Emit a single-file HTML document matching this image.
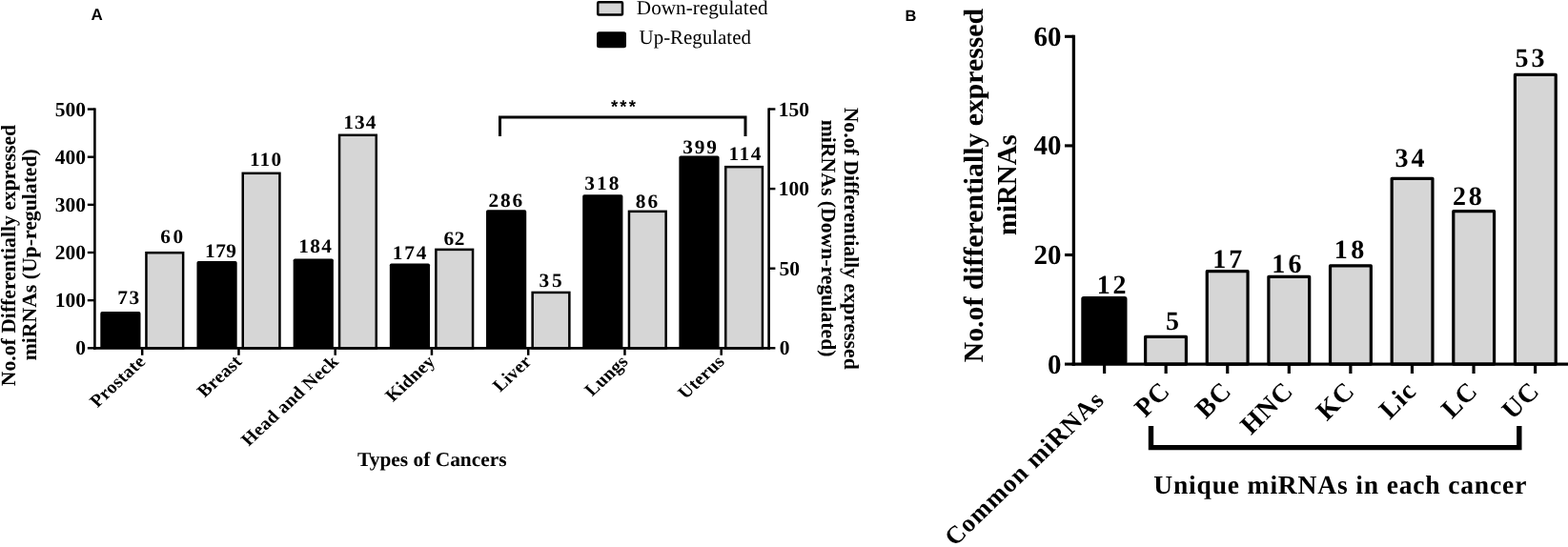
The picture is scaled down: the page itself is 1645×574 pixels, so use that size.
<!DOCTYPE html>
<html><head><meta charset="utf-8"><title>Figure</title>
<style>html,body{margin:0;padding:0;background:#fff}svg{display:block}</style></head>
<body><svg width="1645" height="574" viewBox="0 0 1645 574" text-rendering="geometricPrecision">
<rect width="1645" height="574" fill="#fff"/>
<rect x="105.30" y="327.09" width="42.20" height="38.21" fill="#000" rx="1.8"/>
<rect x="153.45" y="265.22" width="38.70" height="100.08" fill="#d6d6d6" stroke="#000" stroke-width="2.5"/>
<rect x="206.48" y="273.93" width="42.20" height="91.37" fill="#000" rx="1.8"/>
<rect x="254.75" y="181.82" width="38.70" height="183.48" fill="#d6d6d6" stroke="#000" stroke-width="2.5"/>
<rect x="307.66" y="271.42" width="42.20" height="93.88" fill="#000" rx="1.8"/>
<rect x="356.05" y="141.79" width="38.70" height="223.51" fill="#d6d6d6" stroke="#000" stroke-width="2.5"/>
<rect x="408.84" y="276.44" width="42.20" height="88.86" fill="#000" rx="1.8"/>
<rect x="457.35" y="261.88" width="38.70" height="103.42" fill="#d6d6d6" stroke="#000" stroke-width="2.5"/>
<rect x="510.02" y="220.27" width="42.20" height="145.03" fill="#000" rx="1.8"/>
<rect x="558.65" y="306.92" width="38.70" height="58.38" fill="#d6d6d6" stroke="#000" stroke-width="2.5"/>
<rect x="611.20" y="204.22" width="42.20" height="161.08" fill="#000" rx="1.8"/>
<rect x="659.95" y="221.85" width="38.70" height="143.45" fill="#d6d6d6" stroke="#000" stroke-width="2.5"/>
<rect x="712.38" y="163.60" width="42.20" height="201.70" fill="#000" rx="1.8"/>
<rect x="761.25" y="175.15" width="38.70" height="190.15" fill="#d6d6d6" stroke="#000" stroke-width="2.5"/>
<line x1="99.40" y1="113.40" x2="99.40" y2="366.70" stroke="#000" stroke-width="2.6" stroke-linecap="butt"/>
<line x1="806.60" y1="113.40" x2="806.60" y2="366.70" stroke="#000" stroke-width="2.6" stroke-linecap="butt"/>
<line x1="98.10" y1="365.40" x2="807.90" y2="365.40" stroke="#000" stroke-width="2.7" stroke-linecap="butt"/>
<line x1="91.80" y1="365.30" x2="99.40" y2="365.30" stroke="#000" stroke-width="2.4" stroke-linecap="butt"/>
<text transform="translate(79.30,372.40) scale(1.0000,1)" font-family='"Liberation Serif", serif' font-weight="bold" font-size="21.5" text-anchor="start" fill="#000">0</text>
<line x1="91.80" y1="315.15" x2="99.40" y2="315.15" stroke="#000" stroke-width="2.4" stroke-linecap="butt"/>
<text transform="translate(57.80,322.25) scale(1.0000,1)" font-family='"Liberation Serif", serif' font-weight="bold" font-size="21.5" text-anchor="start" fill="#000">100</text>
<line x1="91.80" y1="265.00" x2="99.40" y2="265.00" stroke="#000" stroke-width="2.4" stroke-linecap="butt"/>
<text transform="translate(57.80,272.10) scale(1.0000,1)" font-family='"Liberation Serif", serif' font-weight="bold" font-size="21.5" text-anchor="start" fill="#000">200</text>
<line x1="91.80" y1="214.85" x2="99.40" y2="214.85" stroke="#000" stroke-width="2.4" stroke-linecap="butt"/>
<text transform="translate(57.80,221.95)" font-family='"Liberation Serif", serif' font-weight="bold" font-size="21.5" text-anchor="start" fill="#000">300</text>
<line x1="91.80" y1="164.70" x2="99.40" y2="164.70" stroke="#000" stroke-width="2.4" stroke-linecap="butt"/>
<text transform="translate(57.80,171.80) scale(1.0000,1)" font-family='"Liberation Serif", serif' font-weight="bold" font-size="21.5" text-anchor="start" fill="#000">400</text>
<line x1="91.80" y1="114.55" x2="99.40" y2="114.55" stroke="#000" stroke-width="2.4" stroke-linecap="butt"/>
<text transform="translate(57.80,121.65) scale(1.0000,1)" font-family='"Liberation Serif", serif' font-weight="bold" font-size="21.5" text-anchor="start" fill="#000">500</text>
<line x1="806.60" y1="365.30" x2="813.40" y2="365.30" stroke="#000" stroke-width="2.4" stroke-linecap="butt"/>
<text transform="translate(817.65,372.40) scale(1.0000,1)" font-family='"Liberation Serif", serif' font-weight="bold" font-size="21.5" text-anchor="start" fill="#000">0</text>
<line x1="806.60" y1="281.70" x2="813.40" y2="281.70" stroke="#000" stroke-width="2.4" stroke-linecap="butt"/>
<text transform="translate(817.54,288.80) scale(1.0000,1)" font-family='"Liberation Serif", serif' font-weight="bold" font-size="21.5" text-anchor="start" fill="#000">50</text>
<line x1="806.60" y1="198.10" x2="813.40" y2="198.10" stroke="#000" stroke-width="2.4" stroke-linecap="butt"/>
<text transform="translate(816.68,205.20) scale(1.0000,1)" font-family='"Liberation Serif", serif' font-weight="bold" font-size="21.5" text-anchor="start" fill="#000">100</text>
<line x1="806.60" y1="114.50" x2="813.40" y2="114.50" stroke="#000" stroke-width="2.4" stroke-linecap="butt"/>
<text transform="translate(816.68,121.60) scale(1.0000,1)" font-family='"Liberation Serif", serif' font-weight="bold" font-size="21.5" text-anchor="start" fill="#000">150</text>
<line x1="149.20" y1="365.30" x2="149.20" y2="372.80" stroke="#000" stroke-width="2.5" stroke-linecap="butt"/>
<text transform="translate(153.70,380.60) scale(1.0800,1) rotate(-45)" font-family='"Liberation Serif", serif' font-weight="bold" font-size="18.6" text-anchor="end" letter-spacing="0.20" fill="#000">Prostate</text>
<line x1="250.45" y1="365.30" x2="250.45" y2="372.80" stroke="#000" stroke-width="2.5" stroke-linecap="butt"/>
<text transform="translate(254.95,380.60) scale(1.0800,1) rotate(-45)" font-family='"Liberation Serif", serif' font-weight="bold" font-size="18.6" text-anchor="end" letter-spacing="0.20" fill="#000">Breast</text>
<line x1="351.70" y1="365.30" x2="351.70" y2="372.80" stroke="#000" stroke-width="2.5" stroke-linecap="butt"/>
<text transform="translate(356.20,380.60) scale(1.0800,1) rotate(-45)" font-family='"Liberation Serif", serif' font-weight="bold" font-size="18.6" text-anchor="end" letter-spacing="0.20" fill="#000">Head and Neck</text>
<line x1="452.95" y1="365.30" x2="452.95" y2="372.80" stroke="#000" stroke-width="2.5" stroke-linecap="butt"/>
<text transform="translate(457.45,380.60) scale(1.0800,1) rotate(-45)" font-family='"Liberation Serif", serif' font-weight="bold" font-size="18.6" text-anchor="end" letter-spacing="0.20" fill="#000">Kidney</text>
<line x1="554.20" y1="365.30" x2="554.20" y2="372.80" stroke="#000" stroke-width="2.5" stroke-linecap="butt"/>
<text transform="translate(558.70,380.60) scale(1.0800,1) rotate(-45)" font-family='"Liberation Serif", serif' font-weight="bold" font-size="18.6" text-anchor="end" letter-spacing="0.20" fill="#000">Liver</text>
<line x1="655.45" y1="365.30" x2="655.45" y2="372.80" stroke="#000" stroke-width="2.5" stroke-linecap="butt"/>
<text transform="translate(659.95,380.60) scale(1.0800,1) rotate(-45)" font-family='"Liberation Serif", serif' font-weight="bold" font-size="18.6" text-anchor="end" letter-spacing="0.20" fill="#000">Lungs</text>
<line x1="756.70" y1="365.30" x2="756.70" y2="372.80" stroke="#000" stroke-width="2.5" stroke-linecap="butt"/>
<text transform="translate(761.20,380.60) scale(1.0800,1) rotate(-45)" font-family='"Liberation Serif", serif' font-weight="bold" font-size="18.6" text-anchor="end" letter-spacing="0.20" fill="#000">Uterus</text>
<text transform="translate(123.33,318.80) scale(1.0400,1)" font-family='"Liberation Serif", serif' font-weight="bold" font-size="20.5" text-anchor="start" letter-spacing="1.54" fill="#000">73</text>
<text transform="translate(168.25,254.50) scale(1.0400,1)" font-family='"Liberation Serif", serif' font-weight="bold" font-size="20.5" text-anchor="start" letter-spacing="2.57" fill="#000">60</text>
<text transform="translate(214.89,269.60) scale(1.0400,1)" font-family='"Liberation Serif", serif' font-weight="bold" font-size="20.5" text-anchor="start" letter-spacing="0.56" fill="#000">179</text>
<text transform="translate(261.89,174.00) scale(1.0400,1)" font-family='"Liberation Serif", serif' font-weight="bold" font-size="20.5" text-anchor="start" letter-spacing="1.18" fill="#000">110</text>
<text transform="translate(313.19,264.50) scale(1.0400,1)" font-family='"Liberation Serif", serif' font-weight="bold" font-size="20.5" text-anchor="start" letter-spacing="1.27" fill="#000">184</text>
<text transform="translate(360.29,135.00) scale(1.0400,1)" font-family='"Liberation Serif", serif' font-weight="bold" font-size="20.5" text-anchor="start" letter-spacing="1.08" fill="#000">134</text>
<text transform="translate(411.69,271.80) scale(1.0400,1)" font-family='"Liberation Serif", serif' font-weight="bold" font-size="20.5" text-anchor="start" letter-spacing="1.80" fill="#000">174</text>
<text transform="translate(465.45,256.80) scale(1.0400,1)" font-family='"Liberation Serif", serif' font-weight="bold" font-size="20.5" text-anchor="start" letter-spacing="0.65" fill="#000">62</text>
<text transform="translate(512.55,217.10) scale(1.0400,1)" font-family='"Liberation Serif", serif' font-weight="bold" font-size="20.5" text-anchor="start" letter-spacing="1.78" fill="#000">286</text>
<text transform="translate(565.55,301.20) scale(1.0400,1)" font-family='"Liberation Serif", serif' font-weight="bold" font-size="20.5" text-anchor="start" letter-spacing="2.76" fill="#000">35</text>
<text transform="translate(613.25,199.10) scale(1.0400,1)" font-family='"Liberation Serif", serif' font-weight="bold" font-size="20.5" text-anchor="start" letter-spacing="1.97" fill="#000">318</text>
<text transform="translate(666.66,218.20) scale(1.0400,1)" font-family='"Liberation Serif", serif' font-weight="bold" font-size="20.5" text-anchor="start" letter-spacing="2.08" fill="#000">86</text>
<text transform="translate(716.35,160.60) scale(1.0400,1)" font-family='"Liberation Serif", serif' font-weight="bold" font-size="20.5" text-anchor="start" letter-spacing="1.78" fill="#000">399</text>
<text transform="translate(764.39,167.90) scale(1.0400,1)" font-family='"Liberation Serif", serif' font-weight="bold" font-size="20.5" text-anchor="start" letter-spacing="1.60" fill="#000">114</text>
<polyline points="524.5,143 524.5,122.9 782,122.9 782,143" fill="none" stroke="#000" stroke-width="3"/>
<text transform="translate(640.95,117.90)" font-family='"Liberation Sans", sans-serif' font-weight="bold" font-size="18.5" text-anchor="start" letter-spacing="2.16" fill="#000">***</text>
<rect x="627.20" y="2.20" width="25.80" height="13.40" fill="#d6d6d6" stroke="#000" stroke-width="2.5" rx="1"/>
<rect x="626.00" y="33.20" width="31.00" height="17.00" fill="#000" rx="2.5"/>
<text transform="translate(667.86,14.60) scale(1.0099,1)" font-family='"Liberation Serif", serif' font-weight="normal" font-size="21" text-anchor="start" fill="#000">Down-regulated</text>
<text transform="translate(670.58,46.40) scale(0.9959,1)" font-family='"Liberation Serif", serif' font-weight="normal" font-size="21" text-anchor="start" fill="#000">Up-Regulated</text>
<text transform="translate(374.98,488.80) scale(1.0198,1)" font-family='"Liberation Serif", serif' font-weight="bold" font-size="21" text-anchor="start" fill="#000">Types of Cancers</text>
<text transform="translate(15.50,267.90) rotate(-90) scale(1.0033,1) translate(-136.78,0)" font-family='"Liberation Serif", serif' font-weight="bold" font-size="21.6">No.of Differentially expressed</text>
<text transform="translate(37.70,267.40) rotate(-90) scale(1.0056,1) translate(-110.32,0)" font-family='"Liberation Serif", serif' font-weight="bold" font-size="21.6">miRNAs (Up-regulated)</text>
<text transform="translate(886.00,250.35) rotate(90) scale(1.0066,1) translate(-136.78,0)" font-family='"Liberation Serif", serif' font-weight="bold" font-size="21.6">No.of Differentially expressed</text>
<text transform="translate(861.50,249.95) rotate(90) scale(1.0064,1) translate(-123.50,0)" font-family='"Liberation Serif", serif' font-weight="bold" font-size="21.6">miRNAs (Down-regulated)</text>
<text transform="translate(95.60,21.00)" font-family='"Liberation Sans", sans-serif' font-weight="bold" font-size="17" text-anchor="start" fill="#000">A</text>
<rect x="1134.30" y="311.04" width="48.20" height="71.06" fill="#000" rx="2.6"/>
<rect x="1201.63" y="353.45" width="42.80" height="28.65" fill="#d6d6d6" stroke="#000" stroke-width="3.2" stroke-linejoin="round"/>
<rect x="1266.26" y="284.69" width="42.80" height="97.41" fill="#d6d6d6" stroke="#000" stroke-width="3.2" stroke-linejoin="round"/>
<rect x="1330.89" y="290.42" width="42.80" height="91.68" fill="#d6d6d6" stroke="#000" stroke-width="3.2" stroke-linejoin="round"/>
<rect x="1395.52" y="278.96" width="42.80" height="103.14" fill="#d6d6d6" stroke="#000" stroke-width="3.2" stroke-linejoin="round"/>
<rect x="1460.15" y="187.28" width="42.80" height="194.82" fill="#d6d6d6" stroke="#000" stroke-width="3.2" stroke-linejoin="round"/>
<rect x="1524.78" y="221.66" width="42.80" height="160.44" fill="#d6d6d6" stroke="#000" stroke-width="3.2" stroke-linejoin="round"/>
<rect x="1589.41" y="78.41" width="42.80" height="303.69" fill="#d6d6d6" stroke="#000" stroke-width="3.2" stroke-linejoin="round"/>
<line x1="1126.40" y1="36.70" x2="1126.40" y2="383.80" stroke="#000" stroke-width="3.3" stroke-linecap="butt"/>
<line x1="1124.75" y1="382.10" x2="1645.00" y2="382.10" stroke="#000" stroke-width="3.4" stroke-linecap="butt"/>
<line x1="1117.00" y1="382.10" x2="1126.40" y2="382.10" stroke="#000" stroke-width="3.1" stroke-linecap="butt"/>
<text transform="translate(1099.01,391.50) scale(1.0000,1)" font-family='"Liberation Serif", serif' font-weight="bold" font-size="29" text-anchor="start" fill="#000">0</text>
<line x1="1117.00" y1="267.50" x2="1126.40" y2="267.50" stroke="#000" stroke-width="3.1" stroke-linecap="butt"/>
<text transform="translate(1084.51,276.90) scale(1.0000,1)" font-family='"Liberation Serif", serif' font-weight="bold" font-size="29" text-anchor="start" fill="#000">20</text>
<line x1="1117.00" y1="152.90" x2="1126.40" y2="152.90" stroke="#000" stroke-width="3.1" stroke-linecap="butt"/>
<text transform="translate(1084.52,162.30) scale(1.0000,1)" font-family='"Liberation Serif", serif' font-weight="bold" font-size="29" text-anchor="start" fill="#000">40</text>
<line x1="1117.00" y1="38.30" x2="1126.40" y2="38.30" stroke="#000" stroke-width="3.1" stroke-linecap="butt"/>
<text transform="translate(1084.51,47.70) scale(1.0000,1)" font-family='"Liberation Serif", serif' font-weight="bold" font-size="29" text-anchor="start" fill="#000">60</text>
<line x1="1158.60" y1="382.10" x2="1158.60" y2="392.00" stroke="#000" stroke-width="3.2" stroke-linecap="butt"/>
<text transform="translate(1160.10,421.00) scale(1.0350,1) rotate(-45)" font-family='"Liberation Serif", serif' font-weight="bold" font-size="25.9" text-anchor="end" letter-spacing="1.00" fill="#000">Common miRNAs</text>
<line x1="1223.17" y1="382.10" x2="1223.17" y2="392.00" stroke="#000" stroke-width="3.2" stroke-linecap="butt"/>
<text transform="translate(1229.17,411.50) rotate(-45)" font-family='"Liberation Serif", serif' font-weight="bold" font-size="27.8" text-anchor="end" letter-spacing="1.00" fill="#000">PC</text>
<line x1="1287.74" y1="382.10" x2="1287.74" y2="392.00" stroke="#000" stroke-width="3.2" stroke-linecap="butt"/>
<text transform="translate(1293.74,411.50) rotate(-45)" font-family='"Liberation Serif", serif' font-weight="bold" font-size="27.8" text-anchor="end" letter-spacing="1.00" fill="#000">BC</text>
<line x1="1352.31" y1="382.10" x2="1352.31" y2="392.00" stroke="#000" stroke-width="3.2" stroke-linecap="butt"/>
<text transform="translate(1358.31,411.50) rotate(-45)" font-family='"Liberation Serif", serif' font-weight="bold" font-size="27.8" text-anchor="end" letter-spacing="1.00" fill="#000">HNC</text>
<line x1="1416.88" y1="382.10" x2="1416.88" y2="392.00" stroke="#000" stroke-width="3.2" stroke-linecap="butt"/>
<text transform="translate(1422.88,411.50) rotate(-45)" font-family='"Liberation Serif", serif' font-weight="bold" font-size="27.8" text-anchor="end" letter-spacing="1.00" fill="#000">KC</text>
<line x1="1481.45" y1="382.10" x2="1481.45" y2="392.00" stroke="#000" stroke-width="3.2" stroke-linecap="butt"/>
<text transform="translate(1487.45,411.50) rotate(-45)" font-family='"Liberation Serif", serif' font-weight="bold" font-size="27.8" text-anchor="end" letter-spacing="1.00" fill="#000">Lic</text>
<line x1="1546.02" y1="382.10" x2="1546.02" y2="392.00" stroke="#000" stroke-width="3.2" stroke-linecap="butt"/>
<text transform="translate(1552.02,411.50) rotate(-45)" font-family='"Liberation Serif", serif' font-weight="bold" font-size="27.8" text-anchor="end" letter-spacing="1.00" fill="#000">LC</text>
<line x1="1610.59" y1="382.10" x2="1610.59" y2="392.00" stroke="#000" stroke-width="3.2" stroke-linecap="butt"/>
<text transform="translate(1616.59,411.50) rotate(-45)" font-family='"Liberation Serif", serif' font-weight="bold" font-size="27.8" text-anchor="end" letter-spacing="1.00" fill="#000">UC</text>
<text transform="translate(1150.76,308.00)" font-family='"Liberation Serif", serif' font-weight="bold" font-size="28" text-anchor="start" letter-spacing="2.86" fill="#000">12</text>
<text transform="translate(1222.88,346.40)" font-family='"Liberation Serif", serif' font-weight="bold" font-size="28" text-anchor="start" fill="#000">5</text>
<text transform="translate(1272.16,280.70)" font-family='"Liberation Serif", serif' font-weight="bold" font-size="28" text-anchor="start" letter-spacing="3.04" fill="#000">17</text>
<text transform="translate(1334.36,286.30)" font-family='"Liberation Serif", serif' font-weight="bold" font-size="28" text-anchor="start" letter-spacing="3.18" fill="#000">16</text>
<text transform="translate(1399.66,270.50)" font-family='"Liberation Serif", serif' font-weight="bold" font-size="28" text-anchor="start" letter-spacing="3.48" fill="#000">18</text>
<text transform="translate(1463.62,175.40)" font-family='"Liberation Serif", serif' font-weight="bold" font-size="28" text-anchor="start" letter-spacing="3.00" fill="#000">34</text>
<text transform="translate(1524.08,215.30)" font-family='"Liberation Serif", serif' font-weight="bold" font-size="28" text-anchor="start" letter-spacing="2.76" fill="#000">28</text>
<text transform="translate(1589.38,70.40)" font-family='"Liberation Serif", serif' font-weight="bold" font-size="28" text-anchor="start" letter-spacing="3.10" fill="#000">53</text>
<polyline points="1207.5,447 1207.5,469.6 1593.8,469.6 1593.8,447" fill="none" stroke="#000" stroke-width="5.4"/>
<text transform="translate(1210.21,517.60)" font-family='"Liberation Serif", serif' font-weight="bold" font-size="27.5" text-anchor="start" letter-spacing="0.85" fill="#000">Unique miRNAs in each cancer</text>
<text transform="translate(1031.20,194.40) rotate(-90) scale(1.0252,1) translate(-181.25,0)" font-family='"Liberation Serif", serif' font-weight="bold" font-size="29">No.of differentially expressed</text>
<text transform="translate(1066.00,194.15) rotate(-90) scale(0.9949,1) translate(-53.14,0)" font-family='"Liberation Serif", serif' font-weight="bold" font-size="29">miRNAs</text>
<text transform="translate(949.60,22.40)" font-family='"Liberation Sans", sans-serif' font-weight="bold" font-size="16.5" text-anchor="start" fill="#000">B</text>
</svg></body></html>
